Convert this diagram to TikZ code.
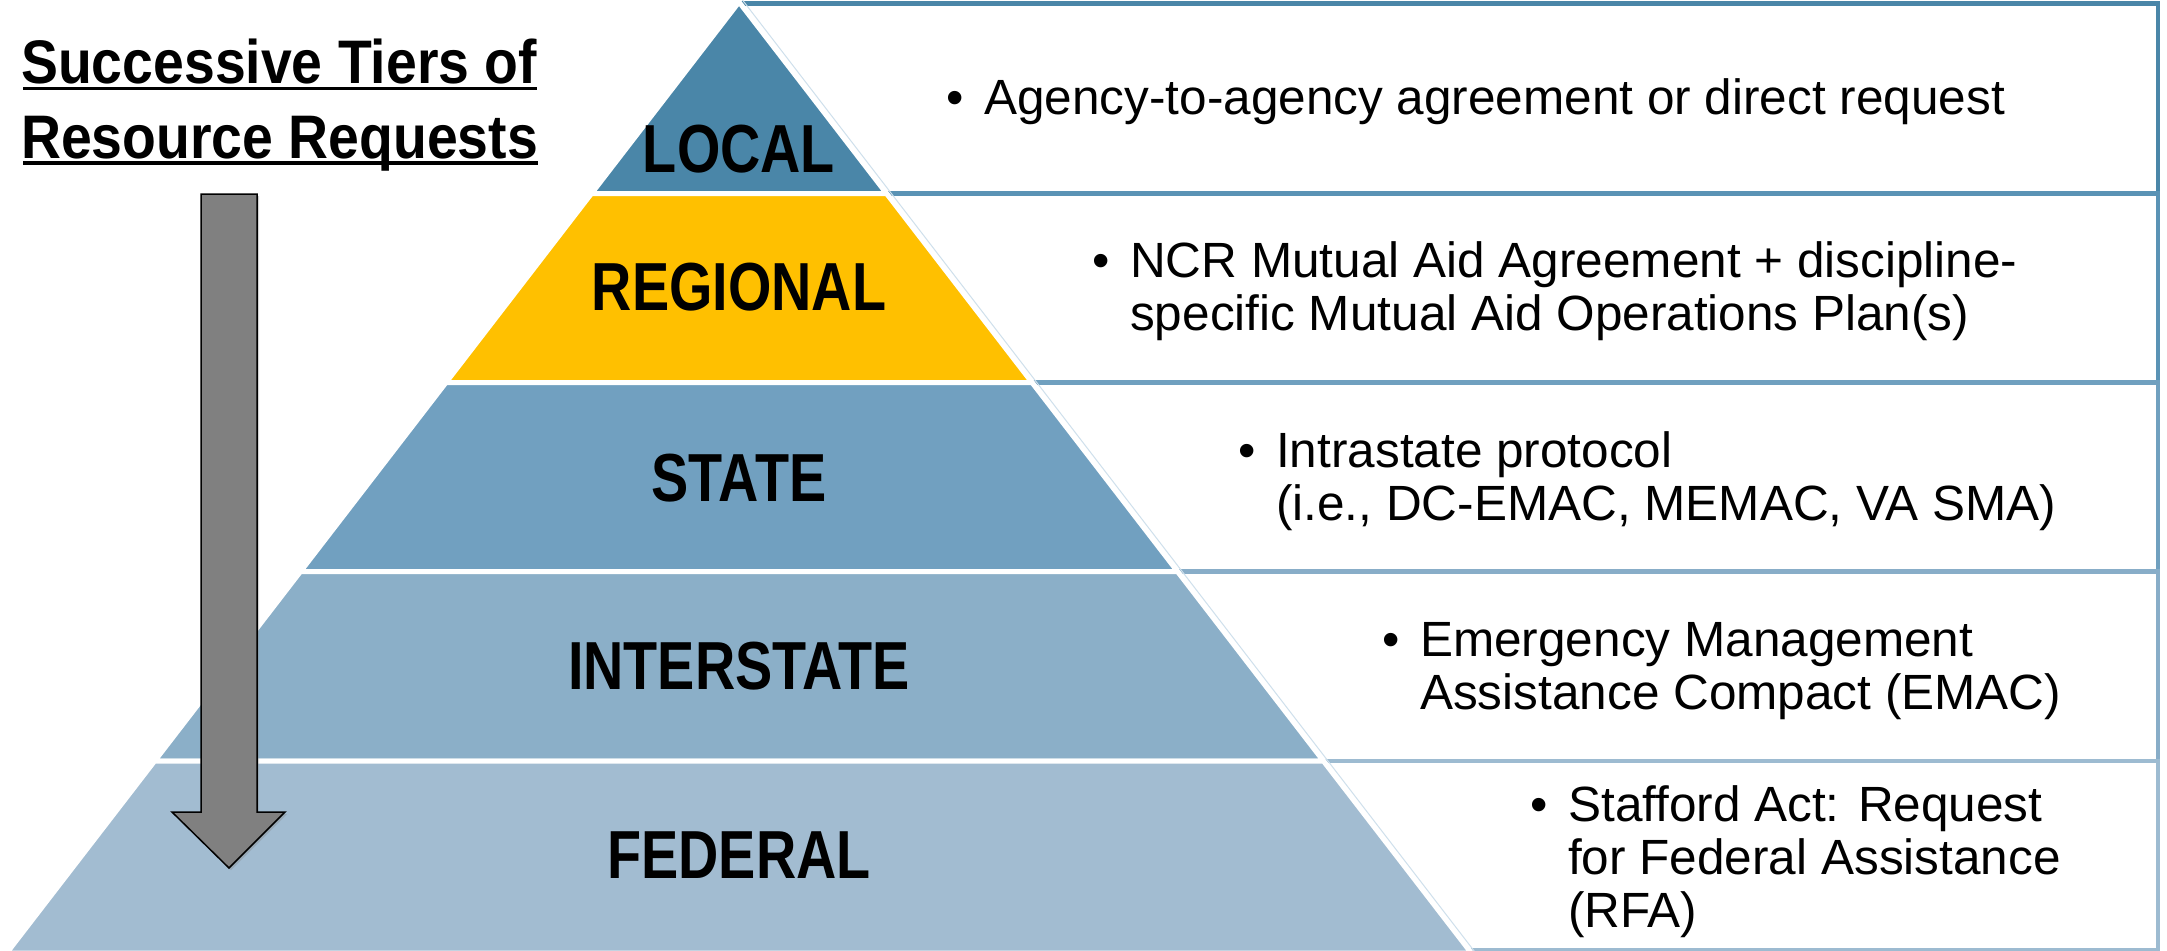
\documentclass[tikz,border=0pt]{standalone}
\usepackage{fontspec}
\setmainfont{Liberation Sans}
\newfontfamily\titlefont[FakeStretch=0.9]{Liberation Sans}
\newfontfamily\tierfont[FakeStretch=0.82]{Liberation Sans}
\usetikzlibrary{shadows}
\definecolor{cLocal}{HTML}{4A86A8}
\definecolor{cRegional}{HTML}{FFC000}
\definecolor{cState}{HTML}{71A0C0}
\definecolor{cInter}{HTML}{8BAFC8}
\definecolor{cFed}{HTML}{A2BCD1}
\definecolor{rOne}{HTML}{4A86A8}
\definecolor{rTwo}{HTML}{5A93B5}
\definecolor{rThree}{HTML}{70A0BF}
\definecolor{rFour}{HTML}{88ADC8}
\definecolor{rFive}{HTML}{9DBBD1}
\definecolor{glowblue}{HTML}{CFE0EC}
\definecolor{arrowgray}{HTML}{808080}
\begin{document}
\begin{tikzpicture}[x=1pt,y=-1pt,
  rowbox/.style={fill=white, line width=4.5pt},
  tier/.style={draw=white, line width=5pt, line join=miter},
  tierlabel/.style={anchor=base, inner sep=0pt, font=\tierfont\bfseries\fontsize{68}{68}\selectfont},
  titletext/.style={anchor=base west, inner sep=0pt, font=\titlefont\bfseries\fontsize{61.5}{74}\selectfont},
  bultext/.style={anchor=base west, inner sep=0pt, font=\fontsize{49.5}{53}\selectfont},
  bulletdot/.style={anchor=base, inner sep=0pt, font=\fontsize{49.5}{53}\selectfont},
  uline/.style={line width=3.5pt},
  pyrglow/.style={draw=glowblue, line width=1pt}
]
\useasboundingbox[fill=white] (0,0) rectangle (2167,950);

% right-hand rows
\draw[rowbox, draw=rOne]   (739,3.5)   rectangle (2158,193.5);
\draw[rowbox, draw=rTwo]   (739,193.5) rectangle (2158,382.5);
\draw[rowbox, draw=rThree] (739,382.5) rectangle (2158,571.5);
\draw[rowbox, draw=rFour]  (739,571.5) rectangle (2158,761);
\draw[rowbox, draw=rFive]  (739,761)   rectangle (2158,950.5);

% pyramid tiers
\draw[tier, fill=cLocal]    (739,2) -- (886.5,193.5) -- (591.5,193.5) -- cycle;
\draw[tier, fill=cRegional] (591.5,193.5) -- (886.5,193.5) -- (1032,382.5) -- (446,382.5) -- cycle;
\draw[tier, fill=cState]    (446,382.5) -- (1032,382.5) -- (1177.5,571.5) -- (300.5,571.5) -- cycle;
\draw[tier, fill=cInter]    (300.5,571.5) -- (1177.5,571.5) -- (1323.4,761) -- (154.6,761) -- cycle;
\draw[tier, fill=cFed]      (154.6,761) -- (1323.4,761) -- (1471.3,953) -- (6.7,953) -- cycle;
\draw[pyrglow] (742.5,0) -- (1475.7,953);

% tier labels
\node[tierlabel] (lLocal)    at (739,172) {LOCAL};
\node[tierlabel] (lRegional) at (739,310) {REGIONAL};
\node[tierlabel] (lState)    at (739,501) {STATE};
\node[tierlabel] (lInter)    at (739,689) {INTERSTATE};
\node[tierlabel] (lFed)      at (739,878) {FEDERAL};

% title
\node[titletext] (title1) at (21,84) {Successive Tiers of};
\node[titletext] (title2) at (21,158.3) {Resource Requests};
\draw[uline] ([xshift=2pt,yshift=-4.5pt]title1.base west) -- ([yshift=-4.5pt]title1.base east);
\draw[uline] ([xshift=2pt,yshift=-4.5pt]title2.base west) -- ([yshift=-4.5pt]title2.base east);

% arrow
\draw[fill=arrowgray, draw=black, line width=1.5pt, line join=miter,
      drop shadow={shadow xshift=2pt, shadow yshift=-2pt, opacity=0.35}]
  (201,194) -- (257,194) -- (257,812) -- (285,812) -- (229,868) -- (172,812) -- (201,812) -- cycle;

% bullet texts
\node[bulletdot] (d1) at (955,114.5) {•};
\node[bultext] (b1) at (984,114.5) {Agency-to-agency agreement or direct request};
\node[bulletdot] (d2) at (1101,277) {•};
\node[bultext] (b2) at (1130,277) {\begin{tabular}[t]{@{}l@{}}NCR Mutual Aid Agreement + discipline-\\specific Mutual Aid Operations Plan(s)\end{tabular}};
\node[bulletdot] (d3) at (1247,467) {•};
\node[bultext] (b3) at (1276,467) {\begin{tabular}[t]{@{}l@{}}Intrastate protocol\\(i.e., DC-EMAC, MEMAC, VA SMA)\end{tabular}};
\node[bulletdot] (d4) at (1391,656) {•};
\node[bultext] (b4) at (1420,656) {\begin{tabular}[t]{@{}l@{}}Emergency Management\\Assistance Compact (EMAC)\end{tabular}};
\node[bulletdot] (d5) at (1539,821) {•};
\node[bultext] (b5) at (1568,821) {\begin{tabular}[t]{@{}l@{}}Stafford Act: Request\\for Federal Assistance\\(RFA)\end{tabular}};
\end{tikzpicture}
\end{document}
